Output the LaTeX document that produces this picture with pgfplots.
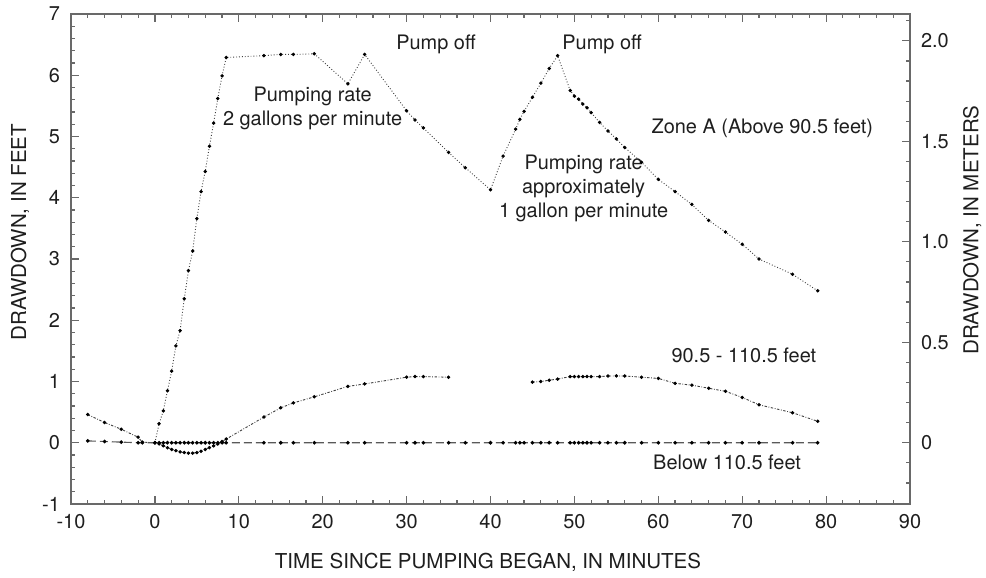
\documentclass[border=0pt]{standalone}
\usepackage{fontspec}
\setmainfont{TeX Gyre Heros}
\usepackage{pgfplots}
\pgfplotsset{compat=1.18}
\definecolor{axgray}{RGB}{105,105,105}
\definecolor{txt}{RGB}{30,30,30}
\begin{document}
\fontsize{10}{12}\selectfont
\begin{tikzpicture}
\begin{axis}[
  name=main,
  scale only axis,
  width=419.5bp, height=245bp,
  xmin=-10, xmax=90, ymin=-1, ymax=7,
  xtick={-10,0,...,90},
  xticklabels={-10,0,10,20,30,40,50,60,70,80,90},
  ytick={-1,0,...,7},
  yticklabels={-1,0,1,2,3,4,5,6,7},
  minor x tick num=4, minor y tick num=4,
  ytick pos=left, xtick pos=both,
  tick align=inside,
  major tick length=4bp, minor tick length=2.2bp,
  axis line style={axgray, line width=0.9bp},
  every tick/.style={axgray, line width=0.6bp},
  tick label style={text=txt, font=\fontsize{10}{12}\selectfont},
  xticklabel style={yshift=-1.5bp},
  yticklabel style={xshift=-2bp},
  xlabel={TIME SINCE PUMPING BEGAN, IN MINUTES},
  ylabel={DRAWDOWN, IN FEET},
  label style={font=\fontsize{10.3}{12}\selectfont},
  xlabel style={at={(axis description cs:0.497,-0.12)}, anchor=center, text=txt},
  ylabel style={at={(axis description cs:-0.0608,0.555)}, anchor=center, rotate=0, text=txt},
  clip=false,
]
% Zone A (Above 90.5 feet)
\addplot[black!75, line width=0.45bp, densely dotted, mark=*, mark size=0.62bp, mark options={solid, black, fill=black}] coordinates {
(0,0) (0.5,0.31) (1,0.52) (1.5,0.85) (2,1.17) (2.5,1.58) (3,1.83) (3.5,2.35) (4,2.81) (4.5,3.13)
(5,3.66) (5.5,4.10) (6,4.43) (6.5,4.84) (7,5.22) (7.5,5.62) (8,5.99) (8.5,6.29)
(13,6.32) (15,6.34) (16.5,6.34) (19,6.35) (23,5.86) (25,6.34)
(30,5.42) (31,5.27) (32,5.14) (35,4.74) (37,4.49) (40,4.13)
(41.5,4.68) (43,5.12) (43.5,5.28) (44,5.41) (45,5.64) (46,5.87) (47,6.11) (48,6.32)
(49.5,5.75) (50,5.66) (50.5,5.61) (51,5.53) (51.5,5.47) (52,5.39) (53,5.23) (54,5.09) (55,4.96) (56,4.82)
(58,4.58) (60,4.30) (62,4.10) (64,3.89) (66,3.63) (68,3.44) (70,3.24) (72,3.00) (76,2.75) (79,2.48)
};
% 90.5 - 110.5 feet (segment 1)
\addplot[black!75, line width=0.45bp, dash pattern=on 1.2bp off 0.8bp on 0.4bp off 0.8bp, mark=*, mark size=0.62bp, mark options={solid, black, fill=black}] coordinates {
(-8,0.46) (-6,0.33) (-4,0.22) (-2,0.09) (-1.5,0.01) (0,0) (0.5,-0.02) (1,-0.05) (1.5,-0.08) (2,-0.11)
(2.5,-0.13) (3,-0.15) (3.5,-0.16) (4,-0.17) (4.5,-0.17) (5,-0.16) (5.5,-0.14) (6,-0.11) (6.5,-0.08)
(7,-0.05) (7.5,-0.02) (8,0.02) (8.5,0.06)
(13,0.42) (15,0.57) (16.5,0.65) (19,0.75) (23,0.92) (25,0.96) (30,1.07) (31,1.08) (32,1.08) (35,1.07)
};
% 90.5 - 110.5 feet (segment 2)
\addplot[black!75, line width=0.45bp, dash pattern=on 1.2bp off 0.8bp on 0.4bp off 0.8bp, mark=*, mark size=0.62bp, mark options={solid, black, fill=black}] coordinates {
(45,0.99) (46,1.00) (47,1.02) (48,1.04) (49.5,1.08) (50,1.08) (50.5,1.08) (51,1.08) (51.5,1.08) (52,1.08)
(53,1.08) (54,1.09) (55,1.09) (56,1.09) (58,1.07) (60,1.05) (62,0.97) (64,0.94) (66,0.89) (68,0.84)
(70,0.74) (72,0.62) (76,0.49) (79,0.35)
};
% Below 110.5 feet
\addplot[black!65, line width=0.55bp, dash pattern=on 4bp off 2bp, mark=*, mark size=0.62bp, mark options={solid, black, fill=black}] coordinates {
(-8,0.03) (-6,0.02) (-4,0.01) (-2,0) (-1.5,0) (0,0) (0.5,0) (1,0) (1.5,0) (2,0) (2.5,0) (3,0) (3.5,0) (4,0)
(4.5,0) (5,0) (5.5,0) (6,0) (6.5,0) (7,0) (7.5,0) (8,0) (8.5,0)
(13,0) (15,0) (16.5,0) (19,0) (23,0) (25,0) (30,0) (31,0) (32,0) (35,0) (37,0) (40,0)
(41.5,0) (43,0) (43.5,0) (44,0) (45,0) (46,0) (47,0) (48,0) (49.5,0) (50,0) (50.5,0) (51,0) (51.5,0)
(52,0) (53,0) (54,0) (55,0) (56,0) (58,0) (60,0) (62,0) (64,0) (66,0) (68,0) (70,0) (72,0) (76,0) (79,0)
};
\node[text=txt, align=center] at (axis cs:18.8,5.46) {Pumping rate\\2 gallons per minute};
\node[text=txt] at (axis cs:33.5,6.50) {Pump off};
\node[text=txt] at (axis cs:53.3,6.50) {Pump off};
\node[text=txt] at (axis cs:72.4,5.13) {Zone A (Above 90.5 feet)};
\node[text=txt, align=center] at (axis cs:51.1,4.15) {Pumping rate\\approximately\\1 gallon per minute};
\node[text=txt] at (axis cs:70.2,1.43) {90.5 - 110.5 feet};
\node[text=txt] at (axis cs:68.2,-0.32) {Below 110.5 feet};
\end{axis}
\begin{axis}[
  scale only axis,
  width=419.5bp, height=245bp,
  xmin=-10, xmax=90,
  ymin=-0.3048, ymax=2.1336,
  axis x line=none,
  axis y line*=right,
  ytick={0,0.5,1,1.5,2},
  yticklabels={0,0.5,1.0,1.5,2.0},
  minor ytick={-0.2,-0.1,0.1,0.2,0.3,0.4,0.6,0.7,0.8,0.9,1.1,1.2,1.3,1.4,1.6,1.7,1.8,1.9,2.1},
  tick align=inside,
  major tick length=4bp, minor tick length=2.2bp,
  axis line style={axgray, line width=0.9bp, -},
  every tick/.style={axgray, line width=0.6bp},
  tick label style={text=txt, font=\fontsize{10}{12}\selectfont},
  yticklabel style={xshift=2bp, anchor=west},
  ylabel={DRAWDOWN, IN METERS},
  label style={font=\fontsize{10.3}{12}\selectfont},
  ylabel style={at={(axis description cs:1.074,0.559)}, anchor=center, rotate=0, text=txt},
]
\addplot[draw=none] coordinates {(0,0)};
\end{axis}
\pgfresetboundingbox
\path[use as bounding box] ([shift={(-35.5bp,-37bp)}]main.south west) rectangle ([shift={(38bp,7bp)}]main.north east);
\end{tikzpicture}
\end{document}
